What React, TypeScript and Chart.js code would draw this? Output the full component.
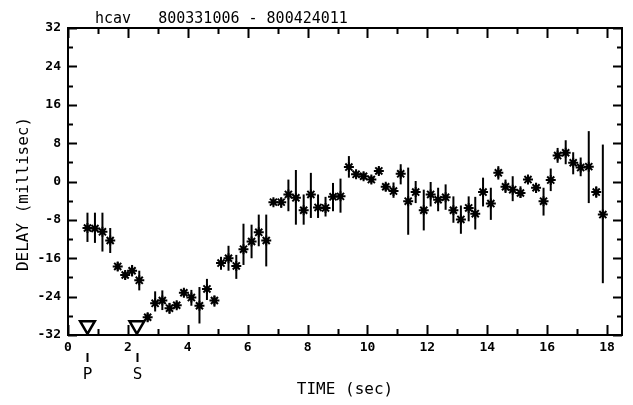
import React, { useEffect, useRef } from 'react';
import { Chart, registerables } from 'chart.js';
Chart.register(...registerables);

const FONT = '"DejaVu Sans Mono", monospace';

const TITLE = 'hcav   800331006 - 800424011';
const X_TITLE = 'TIME (sec)';
const Y_TITLE = 'DELAY (millisec)';

const X_TICKS = [0, 2, 4, 6, 8, 10, 12, 14, 16, 18];
const X_MINOR = [1, 3, 5, 7, 9, 11, 13, 15, 17];
const Y_TICKS = [-32, -24, -16, -8, 0, 8, 16, 24, 32];
const Y_MINOR = [-28, -20, -12, -4, 4, 12, 20, 28];

const TIMES = [
  0.65, 0.9, 1.15, 1.41, 1.66, 1.91, 2.14, 2.38, 2.66, 2.91,
  3.15, 3.39, 3.63, 3.87, 4.12, 4.39, 4.64, 4.89, 5.11, 5.36,
  5.62, 5.86, 6.13, 6.37, 6.62, 6.86, 7.12, 7.36, 7.61, 7.87,
  8.11, 8.35, 8.6, 8.85, 9.1, 9.38, 9.62, 9.87, 10.13, 10.38,
  10.61, 10.87, 11.11, 11.36, 11.61, 11.88, 12.11, 12.36, 12.61, 12.87,
  13.12, 13.38, 13.6, 13.86, 14.12, 14.37, 14.61, 14.85, 15.11, 15.36,
  15.63, 15.88, 16.12, 16.35, 16.62, 16.87, 17.12, 17.39, 17.64, 17.86,
];
const DELAYS = [
  -9.7, -9.8, -10.5, -12.3, -17.7, -19.5, -18.6, -20.6, -28.3, -25.4,
  -24.8, -26.4, -25.8, -23.2, -24.2, -25.9, -22.4, -24.8, -17.0, -16.0,
  -17.6, -14.1, -12.5, -10.6, -12.3, -4.3, -4.3, -2.7, -3.4, -6.0,
  -2.7, -5.4, -5.5, -3.2, -3.1, 3.0, 1.5, 1.1, 0.4, 2.2,
  -1.1, -2.0, 1.6, -4.1, -2.2, -6.0, -2.7, -3.8, -3.3, -6.0,
  -7.9, -5.5, -6.7, -2.2, -4.6, 1.8, -1.1, -1.7, -2.4, 0.4,
  -1.3, -4.1, 0.3, 5.4, 6.0, 3.9, 2.9, 3.1, -2.2, -6.9,
];
const ERR_HIGH = [
  -6.5, -6.5, -6.5, -9.7, -16.8, -18.6, -17.4, -18.6, -27.4, -22.9,
  -22.7, -25.3, -25.0, -22.4, -22.6, -22.0, -20.3, -23.8, -15.7, -13.4,
  -15.3, -8.8, -9.0, -6.9, -6.9, -3.6, -3.4, 0.4, 2.4, -2.7,
  1.8, -2.7, -3.2, -0.3, 0.6, 5.3, 2.3, 1.9, 1.2, 3.0,
  -0.3, -0.2, 3.6, 2.9, 0.1, -1.7, -0.1, -1.3, -0.6, -3.1,
  -5.0, -3.1, -3.2, 0.8, -1.3, 3.2, 0.4, 1.1, -1.0, 1.2,
  -0.3, -1.3, 2.7, 7.0, 8.6, 6.1, 5.0, 10.5, -1.0, 7.7,
];
const ERR_LOW = [
  -12.6, -12.8, -14.6, -14.9, -18.6, -20.4, -19.8, -22.7, -29.2, -27.1,
  -26.8, -27.6, -26.6, -24.0, -25.9, -29.6, -24.7, -26.1, -18.4, -18.6,
  -20.3, -17.4, -16.0, -13.5, -17.7, -5.0, -5.5, -6.2, -9.0, -9.0,
  -7.6, -7.6, -7.3, -6.2, -6.5, 0.8, 0.7, 0.3, -0.4, 1.4,
  -2.0, -3.4, -0.6, -11.1, -4.5, -10.2, -5.2, -6.2, -5.9, -8.6,
  -10.9, -8.3, -10.0, -5.2, -8.0, 0.4, -2.4, -4.1, -3.4, -0.4,
  -2.4, -7.1, -2.0, 3.9, 3.6, 1.5, 1.1, -4.5, -3.4, -21.2,
];

const PHASE_LABELS = ['P', 'S'];
const PHASE_TIMES = [0.65, 2.3];
const PHASE_MARK_Y = [-30, -30];

export default function App() {
  const ref = useRef<HTMLCanvasElement>(null);
  useEffect(() => {
    document.body.style.margin = '0';
    const canvas = ref.current!;
    const decor = {
      id: 'decor',
      beforeDatasetsDraw(chart: any) {
        const { ctx, scales } = chart;
        const xs = scales.x, ys = scales.y;
        ctx.save();
        ctx.strokeStyle = '#000';
        ctx.lineWidth = 2;
        for (let i = 0; i < TIMES.length; i++) {
          const px = xs.getPixelForValue(TIMES[i]);
          ctx.beginPath();
          ctx.moveTo(px, ys.getPixelForValue(ERR_HIGH[i]));
          ctx.lineTo(px, ys.getPixelForValue(ERR_LOW[i]));
          ctx.stroke();
        }
        ctx.restore();
      },
      afterDraw(chart: any) {
        const { ctx, scales, chartArea } = chart;
        const { left, right, top, bottom } = chartArea;
        const xs = scales.x, ys = scales.y;
        ctx.save();
        ctx.strokeStyle = '#000';
        ctx.fillStyle = '#000';
        ctx.lineWidth = 2;
        ctx.strokeRect(left, top, right - left, bottom - top);
        const vtick = (v: number, len: number) => {
          const px = Math.round(xs.getPixelForValue(v)) + 0.5;
          ctx.beginPath();
          ctx.moveTo(px, bottom); ctx.lineTo(px, bottom - len);
          ctx.moveTo(px, top); ctx.lineTo(px, top + len);
          ctx.stroke();
        };
        const htick = (v: number, len: number) => {
          const py = Math.round(ys.getPixelForValue(v)) + 0.5;
          ctx.beginPath();
          ctx.moveTo(left, py); ctx.lineTo(left + len, py);
          ctx.moveTo(right, py); ctx.lineTo(right - len, py);
          ctx.stroke();
        };
        X_TICKS.forEach((v) => vtick(v, 10));
        X_MINOR.forEach((v) => vtick(v, 6));
        Y_TICKS.forEach((v) => htick(v, 9));
        Y_MINOR.forEach((v) => htick(v, 5));

        // phase marks
        ctx.font = `16px ${FONT}`;
        ctx.textAlign = 'center';
        ctx.textBaseline = 'alphabetic';
        PHASE_TIMES.forEach((t, i) => {
          const px = Math.round(xs.getPixelForValue(t)) + 0.5;
          ctx.beginPath();
          ctx.moveTo(px, bottom + 18); ctx.lineTo(px, bottom + 27);
          ctx.stroke();
          ctx.fillText(PHASE_LABELS[i], px, bottom + 44);
        });

        // titles
        ctx.font = `15px ${FONT}`;
        ctx.textAlign = 'left';
        ctx.fillText(TITLE, 95, 23);
        ctx.font = `16px ${FONT}`;
        ctx.textAlign = 'center';
        ctx.fillText(X_TITLE, (left + right) / 2, 394);
        ctx.translate(28, 194);
        ctx.rotate(-Math.PI / 2);
        ctx.fillText(Y_TITLE, 0, 0);
        ctx.restore();
      },
    };
    const chart = new Chart(canvas, {
      type: 'scatter',
      data: {
        datasets: [
          {
            data: TIMES.map((t, i) => ({ x: t, y: DELAYS[i] })),
            pointStyle: 'star',
            radius: 5,
            borderWidth: 2,
            borderColor: '#000',
            backgroundColor: '#000',
          },
          {
            data: PHASE_TIMES.map((t, i) => ({ x: t, y: PHASE_MARK_Y[i] })),
            pointStyle: 'triangle',
            rotation: 180,
            radius: 8.5,
            borderWidth: 2.5,
            borderColor: '#000',
            backgroundColor: '#fff',
          },
        ],
      },
      options: {
        animation: false,
        responsive: false,
        devicePixelRatio: 1,
        events: [],
        layout: { padding: { top: 28, right: 5, left: 0, bottom: 0 } },
        plugins: { legend: { display: false }, tooltip: { enabled: false }, title: { display: false } },
        scales: {
          x: {
            type: 'linear',
            min: 0,
            max: 18.5,
            afterBuildTicks: (s: any) => { s.ticks = X_TICKS.map((v) => ({ value: v })); },
            afterFit: (s: any) => { s.height = 70; },
            grid: { display: false, drawTicks: false },
            border: { display: false },
            ticks: { padding: 5, color: '#000', font: { family: FONT, size: 13, weight: 'bold' }, maxRotation: 0, autoSkip: false },
          },
          y: {
            type: 'linear',
            min: -32,
            max: 32,
            afterBuildTicks: (s: any) => { s.ticks = Y_TICKS.map((v) => ({ value: v })); },
            afterFit: (s: any) => { s.width = 68; },
            grid: { display: false, drawTicks: false },
            border: { display: false },
            ticks: { padding: 7, color: '#000', font: { family: FONT, size: 13, weight: 'bold' }, autoSkip: false },
          },
        },
      },
      plugins: [decor],
    });
    return () => chart.destroy();
  }, []);
  return (
    <div style={{ position: 'absolute', left: 0, top: 0, width: 633, height: 405, background: '#fff' }}>
      <canvas ref={ref} width={633} height={405} style={{ display: 'block' }} />
    </div>
  );
}
